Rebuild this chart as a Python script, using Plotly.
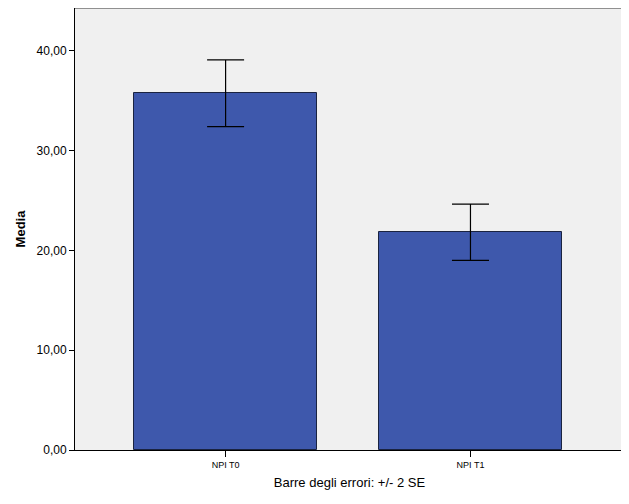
import plotly.graph_objects as go

categories = ["NPI T0", "NPI T1"]
means = [35.76, 21.83]
err_2se = [3.35, 2.82]
y_ticks = [0, 10, 20, 30, 40]

fig = go.Figure()
fig.add_trace(go.Bar(
    x=categories, y=means,
    width=0.75,
    marker=dict(color="#3E58AC", line=dict(color="#1a2340", width=1)),
    error_y=dict(type="data", array=err_2se, visible=True,
                 color="#000000", thickness=1.2, width=18.5),
))

# page body has an 8px default margin; size/margins compensate for it
fig.update_layout(
    width=621, height=496,
    margin=dict(l=67, r=5, t=0, b=54, autoexpand=False),
    paper_bgcolor="white", plot_bgcolor="#F0F0F0",
    separators=",.",
    font=dict(family="Liberation Sans, Arial, sans-serif", color="#000000"),
    showlegend=False,
    bargap=0,
)
fig.update_xaxes(
    range=[-0.615, 1.627], automargin=False,
    showline=True, linecolor="#000000", linewidth=1,
    ticks="outside", ticklen=6, tickcolor="#000000",
    tickfont=dict(size=9),
    showgrid=False,
    title=dict(text="Barre degli errori: +/- 2 SE", font=dict(size=13), standoff=9),
)
fig.update_yaxes(
    range=[0, 44.31], automargin=False,
    tickvals=y_ticks, tickformat=".2f",
    showline=True, linecolor="#000000", linewidth=1,
    ticks="outside", ticklen=5, tickcolor="#000000",
    tickfont=dict(size=12),
    showgrid=False, zeroline=False,
    title=dict(text="<b>Media</b>", font=dict(size=13), standoff=8),
)
# gray top and right frame
fig.add_shape(type="line", xref="paper", yref="paper", x0=0, x1=1, y0=1, y1=1,
              line=dict(color="#707070", width=1.5))
fig.add_shape(type="line", xref="paper", yref="paper", x0=1, x1=1, y0=0, y1=1,
              line=dict(color="#707070", width=1))

fig.write_html("out.html")
